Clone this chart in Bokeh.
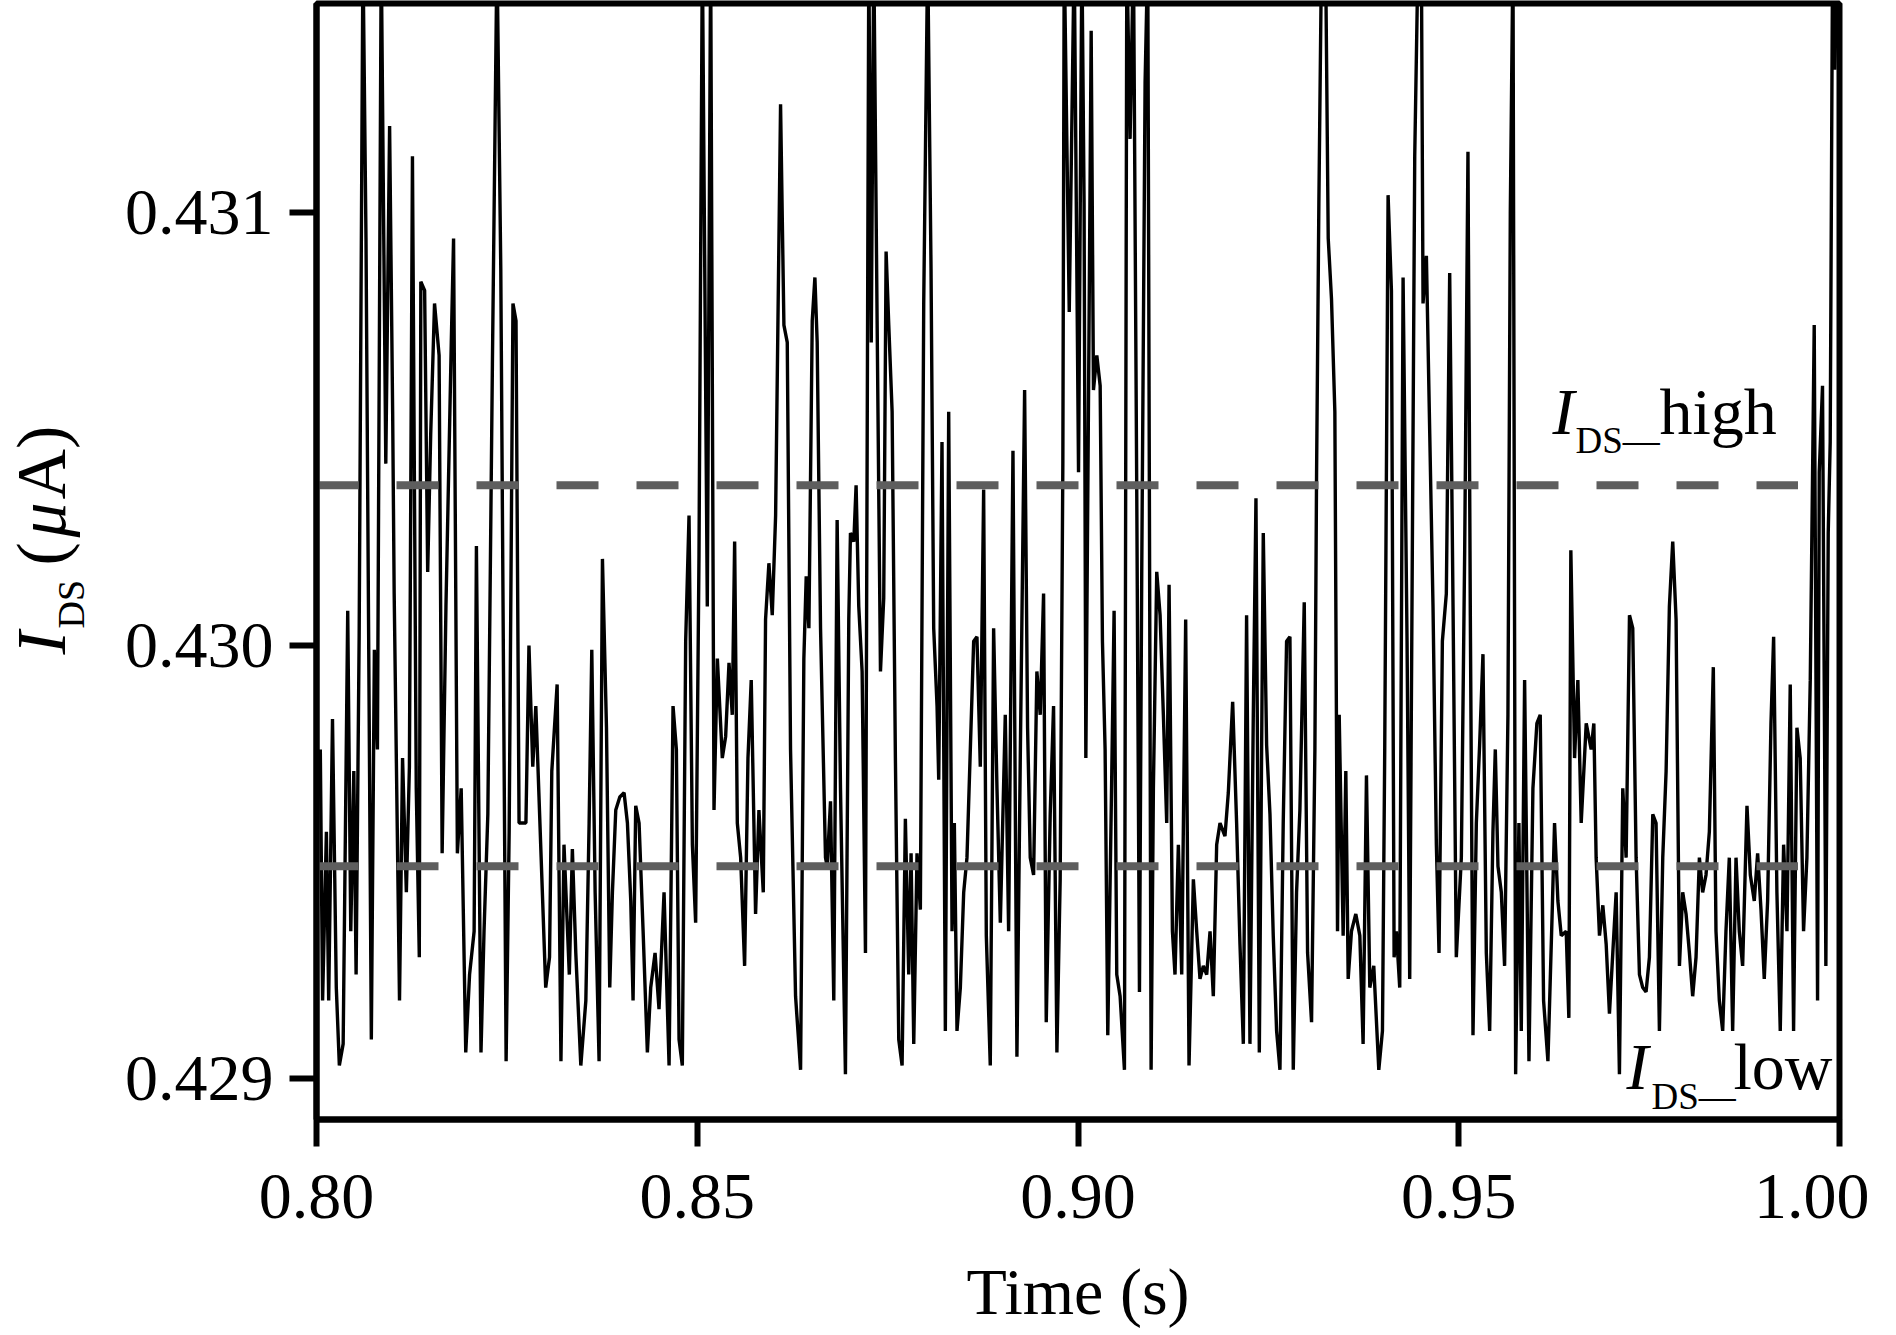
import math
from bokeh.plotting import figure
from bokeh.models import Range1d, FixedTicker, Label, PrintfTickFormatter
from bokeh.layouts import row
from bokeh.embed import file_html
from bokeh.resources import INLINE

# ---------------- data ----------------
time_s = [
    0.80050, 0.80080, 0.80130, 0.80160, 0.80210, 0.80260, 0.80300, 0.80350, 0.80410, 0.80450,
    0.80490, 0.80520, 0.80560, 0.80610, 0.80650, 0.80720, 0.80760, 0.80800, 0.80850, 0.80910,
    0.80960, 0.81000, 0.81020, 0.81090, 0.81130, 0.81180, 0.81220, 0.81260, 0.81310, 0.81350,
    0.81370, 0.81420, 0.81460, 0.81500, 0.81550, 0.81610, 0.81650, 0.81700, 0.81770, 0.81800,
    0.81850, 0.81900, 0.81960, 0.82010, 0.82070, 0.82100, 0.82160, 0.82200, 0.82250, 0.82310,
    0.82370, 0.82420, 0.82490, 0.82530, 0.82580, 0.82620, 0.82660, 0.82750, 0.82790, 0.82840,
    0.82880, 0.82950, 0.83010, 0.83060, 0.83090, 0.83160, 0.83210, 0.83250, 0.83320, 0.83360,
    # 0.834 - 0.867
    0.83405, 0.83471, 0.83537, 0.83580, 0.83615, 0.83659, 0.83711, 0.83755, 0.83808, 0.83851,
    0.83886, 0.83930, 0.83983, 0.84039, 0.84083, 0.84127, 0.84157, 0.84192, 0.84236, 0.84289,
    0.84345, 0.84389, 0.84446, 0.84498, 0.84564, 0.84630, 0.84682, 0.84726, 0.84761, 0.84804,
    0.84848, 0.84892, 0.84936, 0.84979, 0.85023, 0.85067, 0.85132, 0.85176, 0.85220, 0.85264,
    0.85329, 0.85373, 0.85417, 0.85460, 0.85491, 0.85526, 0.85570, 0.85622, 0.85666, 0.85709,
    0.85766, 0.85810, 0.85867, 0.85897, 0.85941, 0.85985, 0.86029, 0.86094, 0.86138, 0.86182,
    0.86225, 0.86291, 0.86357, 0.86400, 0.86431, 0.86466, 0.86510, 0.86545, 0.86575, 0.86619,
    0.86684,
    # 0.867 - 0.900
    0.86706, 0.86750, 0.86793, 0.86837, 0.86881, 0.86946, 0.86990, 0.87012, 0.87056, 0.87086,
    0.87121, 0.87165, 0.87209, 0.87253, 0.87285, 0.87318, 0.87362, 0.87406, 0.87449, 0.87480,
    0.87515, 0.87559, 0.87602, 0.87646, 0.87690, 0.87733, 0.87777, 0.87808, 0.87843, 0.87886,
    0.87930, 0.87974, 0.88026, 0.88070, 0.88105, 0.88149, 0.88171, 0.88214, 0.88258, 0.88302,
    0.88346, 0.88376, 0.88411, 0.88455, 0.88499, 0.88542, 0.88586, 0.88630, 0.88673, 0.88717,
    0.88761, 0.88796, 0.88848, 0.88892, 0.88936, 0.88980, 0.89045, 0.89089, 0.89146, 0.89198,
    0.89242, 0.89299, 0.89338, 0.89373, 0.89417, 0.89460, 0.89504, 0.89548, 0.89583, 0.89635,
    0.89679, 0.89723, 0.89766, 0.89801, 0.89819, 0.89885, 0.89950, 0.90007, 0.90051,
    # 0.900 - 0.934
    0.90080, 0.90103, 0.90138, 0.90173, 0.90203, 0.90247, 0.90291, 0.90321, 0.90356, 0.90391,
    0.90444, 0.90474, 0.90509, 0.90553, 0.90610, 0.90641, 0.90684, 0.90728, 0.90772, 0.90807,
    0.90837, 0.90881, 0.90916, 0.90960, 0.90990, 0.91034, 0.91078, 0.91121, 0.91165, 0.91196,
    0.91240, 0.91274, 0.91318, 0.91362, 0.91414, 0.91458, 0.91515, 0.91559, 0.91602, 0.91646,
    0.91690, 0.91734, 0.91777, 0.91821, 0.91865, 0.91930, 0.91974, 0.92031, 0.92083, 0.92127,
    0.92171, 0.92214, 0.92258, 0.92302, 0.92337, 0.92381, 0.92433, 0.92477, 0.92521, 0.92564,
    0.92608, 0.92652, 0.92695, 0.92739, 0.92783, 0.92827, 0.92870, 0.92914, 0.92971, 0.93015,
    0.93067, 0.93111, 0.93133, 0.93163, 0.93198, 0.93251, 0.93286, 0.93329, 0.93373, 0.93408,
    # 0.934 - 0.967
    0.93430, 0.93482, 0.93517, 0.93548, 0.93591, 0.93648, 0.93701, 0.93744, 0.93788, 0.93832,
    0.93884, 0.93950, 0.93998, 0.94028, 0.94072, 0.94116, 0.94151, 0.94181, 0.94225, 0.94269,
    0.94321, 0.94356, 0.94422, 0.94466, 0.94509, 0.94531, 0.94575, 0.94619, 0.94662, 0.94706,
    0.94741, 0.94785, 0.94837, 0.94881, 0.94925, 0.94968, 0.95034, 0.95078, 0.95121, 0.95152,
    0.95187, 0.95231, 0.95274, 0.95318, 0.95362, 0.95406, 0.95449, 0.95480, 0.95515, 0.95559,
    0.95602, 0.95646, 0.95677, 0.95712, 0.95747, 0.95790, 0.95821, 0.95865, 0.95922, 0.95974,
    0.96026, 0.96070, 0.96114, 0.96171, 0.96228, 0.96258, 0.96302, 0.96346, 0.96411, 0.96446,
    0.96472, 0.96521, 0.96564, 0.96608, 0.96674, 0.96739,
    # 0.967 - 1.000
    0.96774, 0.96804, 0.96848, 0.96892, 0.96936, 0.96979, 0.97023, 0.97067, 0.97110, 0.97154,
    0.97198, 0.97242, 0.97285, 0.97329, 0.97373, 0.97416, 0.97460, 0.97504, 0.97548, 0.97591,
    0.97635, 0.97679, 0.97723, 0.97766, 0.97810, 0.97854, 0.97898, 0.97941, 0.97985, 0.98029,
    0.98072, 0.98116, 0.98160, 0.98203, 0.98247, 0.98291, 0.98343, 0.98378, 0.98422, 0.98466,
    0.98509, 0.98553, 0.98597, 0.98641, 0.98684, 0.98728, 0.98785, 0.98829, 0.98881, 0.98925,
    0.98969, 0.99012, 0.99056, 0.99100, 0.99135, 0.99178, 0.99222, 0.99266, 0.99310, 0.99353,
    0.99397, 0.99441, 0.99484, 0.99528, 0.99572, 0.99616, 0.99668, 0.99712, 0.99734, 0.99777,
    0.99821, 0.99852, 0.99878, 0.99909, 0.99939, 0.99970,
]

current_uA = [
    0.42976, 0.42918, 0.42957, 0.42918, 0.42983, 0.42921, 0.42903, 0.42908, 0.43008, 0.42934,
    0.42971, 0.42924, 0.43002, 0.43160, 0.43094, 0.42909, 0.42999, 0.42976, 0.43160, 0.43042,
    0.43120, 0.43054, 0.43012, 0.42918, 0.42974, 0.42943, 0.42972, 0.43113, 0.42967, 0.42928,
    0.43084, 0.43082, 0.43017, 0.43049, 0.43079, 0.43067, 0.42952, 0.43009, 0.43070, 0.43094,
    0.42952, 0.42967, 0.42906, 0.42924, 0.42934, 0.43023, 0.42906, 0.42934, 0.42961, 0.43065,
    0.43160, 0.43087, 0.42904, 0.42957, 0.43079, 0.43075, 0.42959, 0.42959, 0.43000, 0.42972,
    0.42986, 0.42951, 0.42921, 0.42928, 0.42971, 0.42991, 0.42904, 0.42954, 0.42924, 0.42953,
    # 0.834 - 0.867
    0.42929, 0.42903, 0.42918, 0.42959, 0.42999, 0.42943, 0.42904, 0.43020, 0.42981, 0.42921,
    0.42943, 0.42962, 0.42965, 0.42966, 0.42959, 0.42941, 0.42918, 0.42963, 0.42959, 0.42934,
    0.42906, 0.42921, 0.42929, 0.42916, 0.42943, 0.42903, 0.42986, 0.42976, 0.42909, 0.42903,
    0.43001, 0.43030, 0.42954, 0.42936, 0.43021, 0.43160, 0.43009, 0.43160, 0.42962, 0.42997,
    0.42974, 0.42979, 0.42996, 0.42984, 0.43024, 0.42959, 0.42951, 0.42926, 0.42974, 0.42992,
    0.42938, 0.42962, 0.42943, 0.43006, 0.43019, 0.43007, 0.43030, 0.43125, 0.43074, 0.43070,
    0.42976, 0.42919, 0.42902, 0.42997, 0.43016, 0.43004, 0.43075, 0.43085, 0.43070, 0.43004,
    0.42951,
    # 0.867 - 0.900
    0.42949, 0.42964, 0.42918, 0.43029, 0.42967, 0.42901, 0.43006, 0.43026, 0.43024, 0.43037,
    0.43009, 0.42994, 0.42929, 0.43160, 0.43070, 0.43160, 0.43075, 0.42994, 0.43011, 0.43091,
    0.43074, 0.43054, 0.42974, 0.42909, 0.42903, 0.42960, 0.42924, 0.42952, 0.42908, 0.42952,
    0.42939, 0.43079, 0.43160, 0.43087, 0.43004, 0.42986, 0.42969, 0.43047, 0.42911, 0.43054,
    0.42934, 0.42959, 0.42911, 0.42921, 0.42943, 0.42951, 0.42976, 0.43001, 0.43002, 0.42972,
    0.43036, 0.42933, 0.42903, 0.43004, 0.42967, 0.42936, 0.42984, 0.42934, 0.43045, 0.42905,
    0.42974, 0.43059, 0.42981, 0.42951, 0.42947, 0.42994, 0.42984, 0.43012, 0.42913, 0.42961,
    0.42986, 0.42906, 0.42946, 0.43042, 0.43160, 0.43077, 0.43160, 0.43040, 0.43160,
    # 0.900 - 0.934
    0.43102, 0.42974, 0.43057, 0.43142, 0.43059, 0.43067, 0.43060, 0.43001, 0.42976, 0.42910,
    0.42971, 0.43008, 0.42924, 0.42919, 0.42902, 0.43160, 0.43117, 0.43160, 0.43034, 0.42920,
    0.43017, 0.43130, 0.43160, 0.42902, 0.42967, 0.43017, 0.43007, 0.42984, 0.42959, 0.43014,
    0.42934, 0.42924, 0.42954, 0.42924, 0.43006, 0.42903, 0.42946, 0.42934, 0.42923, 0.42926,
    0.42924, 0.42934, 0.42919, 0.42954, 0.42959, 0.42956, 0.42966, 0.42987, 0.42959, 0.42931,
    0.42908, 0.43007, 0.42908, 0.42984, 0.43034, 0.42906, 0.43026, 0.42977, 0.42961, 0.42933,
    0.42911, 0.42902, 0.42959, 0.43001, 0.43002, 0.42902, 0.42943, 0.42962, 0.43010, 0.42929,
    0.42913, 0.42976, 0.43040, 0.43102, 0.43160, 0.43160, 0.43094, 0.43080, 0.43054, 0.42934,
    # 0.934 - 0.967
    0.42984, 0.42933, 0.42971, 0.42923, 0.42934, 0.42938, 0.42933, 0.42908, 0.42970, 0.42921,
    0.42926, 0.42902, 0.42911, 0.42976, 0.43104, 0.43082, 0.42928, 0.42934, 0.42921, 0.43085,
    0.43001, 0.42923, 0.43113, 0.43160, 0.43160, 0.43079, 0.43090, 0.43049, 0.43009, 0.42954,
    0.42929, 0.43001, 0.43012, 0.43086, 0.43009, 0.42928, 0.42951, 0.43022, 0.43114, 0.43007,
    0.42910, 0.42959, 0.42977, 0.42998, 0.42929, 0.42911, 0.42957, 0.42976, 0.42949, 0.42943,
    0.42926, 0.42984, 0.43100, 0.43160, 0.42901, 0.42959, 0.42911, 0.42992, 0.42904, 0.42967,
    0.42982, 0.42984, 0.42918, 0.42904, 0.42939, 0.42959, 0.42941, 0.42933, 0.42934, 0.42914,
    0.43022, 0.42974, 0.42992, 0.42959, 0.42982, 0.42976,
    # 0.967 - 1.000
    0.42982, 0.42951, 0.42933, 0.42940, 0.42931, 0.42915, 0.42929, 0.42943, 0.42901, 0.42967,
    0.42951, 0.43007, 0.43004, 0.42951, 0.42924, 0.42921, 0.42920, 0.42928, 0.42961, 0.42959,
    0.42911, 0.42951, 0.42971, 0.43009, 0.43024, 0.43006, 0.42926, 0.42943, 0.42938, 0.42929,
    0.42919, 0.42928, 0.42951, 0.42943, 0.42947, 0.42957, 0.42995, 0.42934, 0.42918, 0.42911,
    0.42934, 0.42951, 0.42911, 0.42951, 0.42934, 0.42926, 0.42963, 0.42947, 0.42941, 0.42952,
    0.42939, 0.42923, 0.42941, 0.42982, 0.43002, 0.42943, 0.42911, 0.42954, 0.42934, 0.42991,
    0.42911, 0.42981, 0.42974, 0.42934, 0.42951, 0.42992, 0.43074, 0.42918, 0.43040, 0.43060,
    0.42926, 0.43026, 0.43047, 0.43160, 0.43133, 0.43160,
]
assert len(time_s) == len(current_uA), (len(time_s), len(current_uA))

x_ticks = [0.80, 0.85, 0.90, 0.95, 1.00]
x_tick_labels = ["0.80", "0.85", "0.90", "0.95", "1.00"]
y_ticks = [0.429, 0.430, 0.431]
y_tick_labels = ["0.429", "0.430", "0.431"]

level_names = ["high", "low"]
level_values = [0.43037, 0.42949]
level_t_start = 0.80
level_t_end = 0.99455

# ---------------- geometry ----------------
FONT = "Liberation Serif"
H = 1333                 # height of both figures
YLAB_W = 100             # narrow figure that carries the y-axis title
ORIGIN = 1               # page offset of the layout
FL, FR, FT, FB = 317, 1840, 4, 1120   # wanted frame edges on the page
DROP = 0.32              # measured offset of the alphabetic baseline (in em)

X0, X1 = 0.80, 1.00
Y0 = 0.431 - (FB - 213) / 433000.0
Y1 = 0.431 + (213 - FT) / 433000.0

main_left = FL - ORIGIN - YLAB_W
main_right = 30
main_w = main_left + (FR - FL) + main_right
main_top = FT - ORIGIN
main_bottom = H - (FB - ORIGIN)

# ---------------- main figure ----------------
p = figure(width=main_w, height=H,
           x_range=Range1d(X0, X1), y_range=Range1d(Y0, Y1),
           output_backend="svg", toolbar_location=None,
           min_border_left=main_left, min_border_right=main_right,
           min_border_top=main_top, min_border_bottom=main_bottom)
p.background_fill_color = "white"
p.border_fill_color = "white"
p.xgrid.visible = False
p.ygrid.visible = False
p.outline_line_color = "black"
p.outline_line_width = 6

for ax in (p.xaxis[0], p.yaxis[0]):
    ax.axis_line_color = "black"
    ax.axis_line_width = 6
    ax.major_tick_line_color = "black"
    ax.major_tick_line_width = 6
    ax.major_tick_out = 27
    ax.major_tick_in = 0
    ax.minor_tick_line_color = None
    ax.major_label_text_font = FONT
    ax.major_label_text_font_size = "66px"
    ax.major_label_text_color = "black"

p.xaxis.ticker = FixedTicker(ticks=x_ticks)
p.yaxis.ticker = FixedTicker(ticks=y_ticks)
p.xaxis.formatter = PrintfTickFormatter(format="%.2f")
p.yaxis.formatter = PrintfTickFormatter(format="%.3f")
p.xaxis.major_label_overrides = {t: s for t, s in zip(x_ticks, x_tick_labels)}
p.yaxis.major_label_overrides = {t: s for t, s in zip(y_ticks, y_tick_labels)}
p.xaxis.major_label_standoff = 28
p.yaxis.major_label_standoff = 16

p.xaxis.axis_label = "Time (s)"
p.xaxis.axis_label_text_font = FONT
p.xaxis.axis_label_text_font_size = "66px"
p.xaxis.axis_label_text_font_style = "normal"
p.xaxis.axis_label_text_color = "black"
p.xaxis.axis_label_standoff = 34

# signal
p.line(time_s, current_uA, line_color="black", line_width=3.4)

# threshold levels
for lv in level_values:
    p.line([level_t_start, level_t_end], [lv, lv], line_color="#5e5e5e",
           line_width=8, line_dash="42 38")


def tx(px):
    return X0 + (px - FL) / (FR - FL) * (X1 - X0)


def vy(py):
    return Y1 - (py - FT) / (FB - FT) * (Y1 - Y0)


def lab(fig, x, y, text, size, style="normal", angle=0.0, align="left"):
    fig.add_layout(Label(x=x, y=y, text=text, text_font=FONT,
                         text_font_size=f"{size}px", text_font_style=style,
                         text_color="black", angle=angle, text_align=align,
                         text_baseline="alphabetic"))


def main_lab(text, px, base_py, size, style="normal"):
    # base_py: wanted baseline on the page
    lab(p, tx(px), vy(base_py - DROP * size), text, size, style)


# level annotations inside the frame
main_lab("I", 1553, 433, 66, "italic")
main_lab("DS\u2014", 1576, 453, 37)
main_lab("high", 1660, 433, 66)

main_lab("I", 1627, 1088, 66, "italic")
main_lab("DS\u2014", 1652, 1109, 37)
main_lab("low", 1734, 1088, 66)

# ---------------- y-axis title figure (frame aligned with the main one) ----------------
q = figure(width=YLAB_W, height=H, x_range=Range1d(0, YLAB_W), y_range=Range1d(Y0, Y1),
           output_backend="svg", toolbar_location=None,
           x_axis_location=None, y_axis_location=None,
           min_border_left=0, min_border_right=0,
           min_border_top=main_top, min_border_bottom=main_bottom)
q.xgrid.visible = False
q.ygrid.visible = False
q.outline_line_color = None
q.background_fill_color = "white"
q.border_fill_color = "white"


def side_lab(text, base_px, start_py, size, style="normal"):
    # rotated text: baseline at page x base_px, text starting at page y start_py
    lab(q, base_px - ORIGIN - DROP * size, vy(start_py), text, size, style, math.pi / 2)


side_lab("I", 64, 655, 70, "italic")
side_lab("DS", 84, 629, 38)
side_lab("(", 64, 566, 70)
side_lab("\u03bc", 64, 538, 70, "italic")
side_lab("A)", 64, 500, 70)

layout = row(q, p, spacing=0)
open("out.html", "w").write(file_html(layout, INLINE))
